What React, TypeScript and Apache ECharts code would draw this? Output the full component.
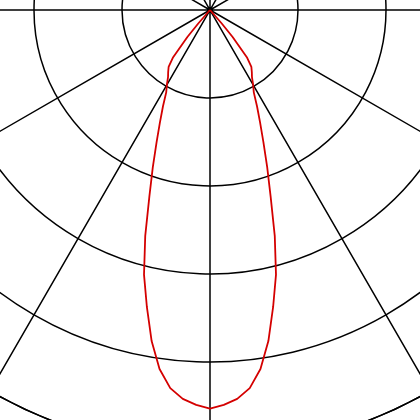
import React, { useEffect, useRef } from 'react'
import * as echarts from 'echarts'

// gamma angles (deg from nadir) and intensity in grid units, one half of the symmetric curve
const gammaAngles = [0, 2, 4, 6, 8, 10, 12, 14, 16, 18, 20, 22, 24, 26, 28, 30, 32, 34, 36, 38, 40, 41, 42]
const intensity = [4.53, 4.49, 4.43, 4.32, 4.12, 3.82, 3.45, 3.1, 2.67, 2.23, 1.9, 1.62, 1.4, 1.22, 1.06, 0.98, 0.9, 0.85, 0.8, 0.68, 0.4, 0.2, 0]

const radiusMax = 5
const angleStep = 30

const App: React.FC = () => {
  const chartRef = useRef<HTMLDivElement>(null)

  useEffect(() => {
    if (!chartRef.current) return
    const chart = echarts.init(chartRef.current, undefined, { renderer: 'svg' })

    // left half (angle grows clockwise from the bottom) then right half
    const curve: number[][] = []
    for (let i = gammaAngles.length - 1; i >= 0; i--) {
      curve.push([intensity[i], gammaAngles[i]])
    }
    for (let i = 1; i < gammaAngles.length; i++) {
      curve.push([intensity[i], 360 - gammaAngles[i]])
    }

    const lineStyle = { color: '#000', width: 1.5 }

    chart.setOption({
      animation: false,
      polar: {
        center: [210, 10],
        radius: 440,
      },
      angleAxis: {
        type: 'value',
        min: 0,
        max: 360,
        interval: angleStep,
        startAngle: 270,
        clockwise: true,
        axisLine: { show: true, lineStyle },
        axisTick: { show: false },
        axisLabel: { show: false },
        splitLine: { show: true, lineStyle },
      },
      radiusAxis: {
        type: 'value',
        min: 0,
        max: radiusMax,
        interval: 1,
        axisLine: { show: false },
        axisTick: { show: false },
        axisLabel: { show: false },
        splitLine: { show: true, lineStyle },
      },
      series: [
        {
          type: 'line',
          coordinateSystem: 'polar',
          symbol: 'none',
          smooth: false,
          lineStyle: { color: '#d40000', width: 1.8 },
          data: curve,
        },
      ],
    })

    return () => {
      chart.dispose()
    }
  }, [])

  return (
    <div
      ref={chartRef}
      style={{ position: 'absolute', left: 0, top: 0, width: 420, height: 420, background: '#fff' }}
    />
  )
}

export default App
